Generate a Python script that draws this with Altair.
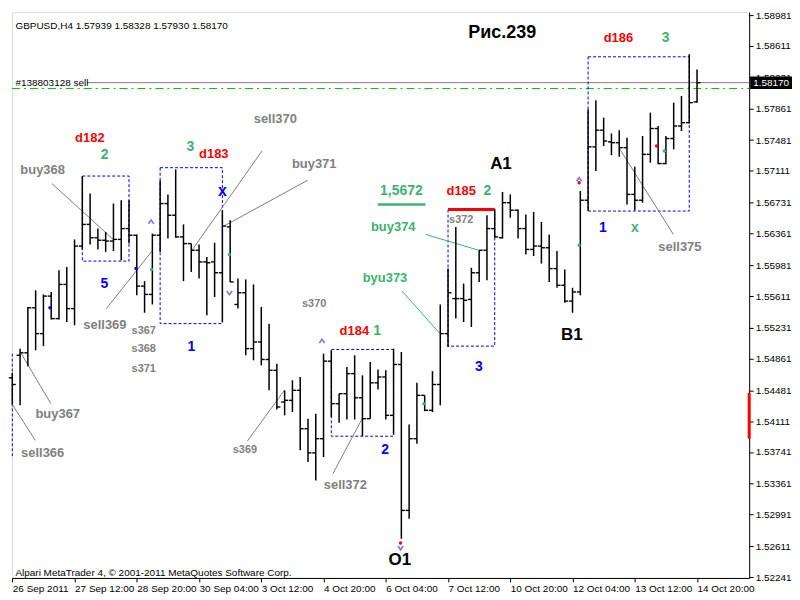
import json
import altair as alt
import pandas as pd

# ---------------- data ----------------
bar_open = [1.5463, 1.5490, 1.5493, 1.5547, 1.5516, 1.5561, 1.5534, 1.5575, 1.5546, 1.5621,
            1.5647, 1.5631, 1.5628, 1.5627, 1.5629, 1.5642, 1.5634, 1.5573, 1.5563, 1.5634,
            1.5672, 1.5658, 1.5632, 1.5624, 1.5616, 1.5602, 1.5602, 1.5589, 1.5644, 1.5551,
            1.5565, 1.5498, 1.5506, 1.5485, 1.5472, 1.5434, 1.5436, 1.5448, 1.5402, 1.5373,
            1.5390, 1.5483, 1.5432, 1.5444, 1.5468, 1.5439, 1.5414, 1.5457, 1.5464, 1.5418,
            1.5479, 1.5304, 1.5390, 1.5442, 1.5424, 1.5455, 1.5516, 1.5558, 1.5558, 1.5557,
            1.5589, 1.5616, 1.5642, 1.5631, 1.5673, 1.5664, 1.5642, 1.5617, 1.5621, 1.5619,
            1.5594, 1.5574, 1.5555, 1.5566, 1.5676, 1.5740, 1.5760, 1.5746, 1.5745, 1.5739,
            1.5683, 1.5676, 1.5731, 1.5762, 1.5720, 1.5750, 1.5765, 1.5769, 1.57939]
bar_high = [1.5469, 1.5498, 1.5548, 1.5568, 1.5563, 1.5566, 1.5592, 1.5596, 1.5629, 1.5705,
            1.5684, 1.5642, 1.5638, 1.5672, 1.5676, 1.5676, 1.5635, 1.5579, 1.5636, 1.5700,
            1.5683, 1.5713, 1.5647, 1.5624, 1.5623, 1.5608, 1.5625, 1.5664, 1.5652, 1.5582,
            1.5581, 1.5575, 1.5548, 1.5528, 1.5480, 1.5448, 1.5460, 1.5464, 1.5414, 1.5420,
            1.5492, 1.5496, 1.5444, 1.5476, 1.5490, 1.5466, 1.5482, 1.5473, 1.5472, 1.5498,
            1.5494, 1.5407, 1.5457, 1.5442, 1.5471, 1.5551, 1.5594, 1.5644, 1.5576, 1.5595,
            1.5616, 1.5658, 1.5665, 1.5686, 1.5683, 1.5665, 1.5659, 1.5662, 1.5650, 1.5635,
            1.5615, 1.5593, 1.5571, 1.5687, 1.5785, 1.5796, 1.5775, 1.5756, 1.5760, 1.5751,
            1.5716, 1.5753, 1.5781, 1.5765, 1.5753, 1.5793, 1.5801, 1.5851, 1.58328]
bar_low = [1.5431, 1.5430, 1.5477, 1.5496, 1.5501, 1.5533, 1.5533, 1.5530, 1.5526, 1.5617,
           1.5623, 1.5617, 1.5614, 1.5615, 1.5604, 1.5624, 1.5562, 1.5541, 1.5551, 1.5614,
           1.5630, 1.5631, 1.5579, 1.5590, 1.5582, 1.5538, 1.5560, 1.5530, 1.5578, 1.5546,
           1.5490, 1.5484, 1.5478, 1.5448, 1.5425, 1.5418, 1.5422, 1.5376, 1.5362, 1.5340,
           1.5368, 1.5416, 1.5409, 1.5413, 1.5413, 1.5393, 1.5414, 1.5449, 1.5413, 1.5395,
           1.5270, 1.5294, 1.5384, 1.5423, 1.5422, 1.5430, 1.5500, 1.5534, 1.5530, 1.5524,
           1.5578, 1.5580, 1.5631, 1.5630, 1.5655, 1.5630, 1.5611, 1.5609, 1.5600, 1.5578,
           1.5571, 1.5553, 1.5541, 1.5562, 1.5663, 1.5711, 1.5741, 1.5730, 1.5728, 1.5671,
           1.5664, 1.5673, 1.5721, 1.5719, 1.5719, 1.5737, 1.5759, 1.5768, 1.57930]
bar_close = [1.5455, 1.5493, 1.5547, 1.5516, 1.5561, 1.5534, 1.5575, 1.5546, 1.5621, 1.5647,
             1.5631, 1.5628, 1.5627, 1.5629, 1.5642, 1.5634, 1.5573, 1.5563, 1.5634, 1.5672,
             1.5658, 1.5632, 1.5624, 1.5616, 1.5602, 1.5601, 1.5589, 1.5645, 1.5578, 1.5565,
             1.5498, 1.5506, 1.5485, 1.5472, 1.5428, 1.5436, 1.5448, 1.5402, 1.5373, 1.5390,
             1.5483, 1.5432, 1.5444, 1.5468, 1.5439, 1.5414, 1.5457, 1.5464, 1.5418, 1.5479,
             1.5304, 1.5390, 1.5442, 1.5424, 1.5455, 1.5516, 1.5565, 1.5558, 1.5556, 1.5589,
             1.5616, 1.5642, 1.5632, 1.5673, 1.5664, 1.5642, 1.5617, 1.5621, 1.5619, 1.5594,
             1.5574, 1.5555, 1.5566, 1.5676, 1.5740, 1.5760, 1.5747, 1.5745, 1.5739, 1.5683,
             1.5676, 1.5731, 1.5762, 1.5720, 1.5750, 1.5765, 1.5769, 1.5793, 1.58170]

tick_labels = ["26 Sep 2011", "27 Sep 12:00", "28 Sep 20:00", "30 Sep 04:00", "3 Oct 12:00",
               "4 Oct 20:00", "6 Oct 04:00", "7 Oct 12:00", "10 Oct 20:00", "12 Oct 04:00",
               "13 Oct 12:00", "14 Oct 20:00"]
tick_index = [0, 8, 16, 24, 32, 40, 48, 56, 64, 72, 80, 88]
price_ticks = [1.58981, 1.58611, 1.58231, 1.57861, 1.57481, 1.57111, 1.56731, 1.56361,
               1.55981, 1.55611, 1.55231, 1.54861, 1.54481, 1.54111, 1.53741, 1.53361,
               1.52991, 1.52611, 1.52241]

# dashed boxes (bar index from/to, price top/bottom)
box_x1 = [9.0, 19.0, 41.0, 56.0, 74.0]
box_x2 = [15.0, 27.0, 49.0, 62.0, 87.0]
box_top = [1.5705, 1.5715, 1.5497, 1.5665, 1.5848]
box_bot = [1.5603, 1.5528, 1.5393, 1.5501, 1.5663]

# leader lines (gray)
gline_x1 = [5.09, 12.09, 32.09, 37.96, 0.0, 1.09, 44.96, 34.96, 77.96]
gline_y1 = [1.5696, 1.5546, 1.5735, 1.5700, 1.5431, 1.5493, 1.5414, 1.5448, 1.5739]
gline_x2 = [12.96, 17.96, 23.09, 27.2, 2.96, 4.96, 41.2, 30.2, 84.96]
gline_y2 = [1.5629, 1.5615, 1.5616, 1.5645, 1.5388, 1.5432, 1.5348, 1.5387, 1.5635]
# leader lines (green)
grline_x1 = [50.09, 53.09]
grline_y1 = [1.5567, 1.5635]
grline_x2 = [54.96, 59.96]
grline_y2 = [1.5516, 1.5616]

label_text = ["d182", "2", "buy368", "5", "sell369", "s367", "s368", "s371", "1", "3", "d183",
              "sell370", "buy371", "buy367", "sell366", "s370", "s369", "d184", "1", "2",
              "sell372", "O1", "1,5672", "d185", "2", "A1", "s372", "buy374", "byu373", "3",
              "B1", "d186", "3", "1", "x", "sell375", "Рис.239", "x"]
label_x = [9.97, 11.85, 3.9, 11.84, 11.9, 16.9, 16.9, 16.9, 23.0, 22.9, 25.9,
           33.8, 38.8, 5.84, 3.9, 38.8, 29.9, 43.96, 46.9, 47.9,
           42.8, 49.8, 50.0, 57.7, 61.05, 62.8, 57.7, 48.96, 47.9, 59.97,
           71.9, 77.9, 83.96, 75.9, 80.0, 85.8, 62.96, 27.0]
label_y = [1.5751, 1.5730, 1.5712, 1.5576, 1.5526, 1.5519, 1.5497, 1.5473, 1.5500, 1.5740, 1.5731,
           1.5773, 1.5720, 1.5420, 1.5373, 1.5551, 1.5376, 1.5519, 1.5519, 1.5377,
           1.5335, 1.5245, 1.5687, 1.5687, 1.5687, 1.5720, 1.5652, 1.5644, 1.5583, 1.5476,
           1.5514, 1.5870, 1.5871, 1.5643, 1.5643, 1.5620, 1.5876, 1.5687]
RED, GREEN, BLUE, GRAY, BLACK = "#ff0000", "#3cb371", "#0000ff", "#808080", "#000000"
label_color = [RED, GREEN, GRAY, BLUE, GRAY, GRAY, GRAY, GRAY, BLUE, GREEN, RED,
               GRAY, GRAY, GRAY, GRAY, GRAY, GRAY, RED, GREEN, BLUE,
               GRAY, BLACK, GREEN, RED, GREEN, BLACK, GRAY, GREEN, GREEN, BLUE,
               BLACK, RED, GREEN, BLUE, GREEN, GRAY, BLACK, BLUE]
label_size = [13, 14, 13, 14, 13, 11, 11, 11, 14, 14, 13,
              13, 13, 13, 13, 11, 11, 13, 14, 14,
              13, 17, 14, 13, 14, 17, 11, 13, 13, 14,
              17, 13, 14, 14, 14, 13, 18, 16]

up_x = [17.84, 39.8, 72.85]
up_y = [1.5650, 1.5507, 1.5701]
down_x = [27.9, 49.9]
down_y = [1.5565, 1.5259]
dot_x = [4.84, 15.9, 17.9, 27.9, 52.9, 72.85, 83.8, 49.9, 72.85, 82.8]
dot_y = [1.5547, 1.5594, 1.5593, 1.5611, 1.5432, 1.5622, 1.5735, 1.5265, 1.5697, 1.5741]
dot_c = [BLUE, BLUE, GREEN, GREEN, GREEN, GREEN, GREEN, RED, RED, RED]

bid_price = 1.58170
order_price = 1.5810
header_text = "GBPUSD,H4  1.57939 1.58328 1.57930 1.58170"
footer_text = "Alpari MetaTrader 4, © 2001-2011 MetaQuotes Software Corp."

# ---------------- chart ----------------
W, H = 740, 568
XDOM = [-0.04, 94.7]
YDOM = [1.52230, 1.59016]
FONT = "Liberation Sans"

xs = alt.Scale(domain=XDOM, nice=False, zero=False)
ys = alt.Scale(domain=YDOM, nice=False, zero=False)
label_expr = "%s[round(datum.value/8)]" % json.dumps(tick_labels)
xaxis = alt.Axis(values=tick_index, labelExpr=label_expr, labelAlign="left", labelPadding=2,
                 tickSize=4, grid=False, title=None, labelFont=FONT, labelFontSize=10,
                 labelColor="black", tickColor="black", domainColor="black",
                 labelOverlap=False, labelFlush=False)
yaxis = alt.Axis(orient="right", values=price_ticks, format=".5f", labelAlign="left",
                 labelBaseline="middle", labelPadding=2, tickSize=4, grid=False, title=None,
                 labelFont=FONT, labelFontSize=10, labelColor="black", tickColor="black",
                 domainColor="black", labelOverlap=False, labelFlush=False)


def X(f="x"):
    return alt.X(f"{f}:Q", scale=xs, axis=xaxis)


def Y(f="y"):
    return alt.Y(f"{f}:Q", scale=ys, axis=yaxis)


idx = list(range(len(bar_close)))
df_hl = pd.DataFrame({"x": idx, "y": bar_low, "y2": bar_high})
df_o = pd.DataFrame({"x": [i - 0.45 for i in idx], "x2": idx, "y": bar_open})
df_c = pd.DataFrame({"x": idx, "x2": [i + 0.45 for i in idx], "y": bar_close})

hl = alt.Chart(df_hl).mark_rule(color="black", strokeWidth=1.5).encode(x=X(), y=Y(), y2="y2:Q")
op = alt.Chart(df_o).mark_rule(color="black", strokeWidth=1.4).encode(x=X(), x2="x2:Q", y=Y())
cl = alt.Chart(df_c).mark_rule(color="black", strokeWidth=1.4).encode(x=X(), x2="x2:Q", y=Y())

df_box = pd.DataFrame({"x": box_x1, "x2": box_x2, "y": box_top, "y2": box_bot})
boxes = alt.Chart(df_box).mark_rect(fillOpacity=0, stroke=BLUE, strokeWidth=1,
                                    strokeDash=[3, 2]).encode(x=X(), x2="x2:Q", y=Y(), y2="y2:Q")
df_edge = pd.DataFrame({"x": [0.0], "y": [1.5492], "y2": [1.5369]})
edge = alt.Chart(df_edge).mark_rule(color=BLUE, strokeWidth=1, strokeDash=[3, 2]).encode(
    x=X(), y=Y(), y2="y2:Q")

df_g = pd.DataFrame({"x": gline_x1, "y": gline_y1, "x2": gline_x2, "y2": gline_y2})
glines = alt.Chart(df_g).mark_rule(color="#808080", strokeWidth=1).encode(
    x=X(), y=Y(), x2="x2:Q", y2="y2:Q")
df_gr = pd.DataFrame({"x": grline_x1, "y": grline_y1, "x2": grline_x2, "y2": grline_y2})
grlines = alt.Chart(df_gr).mark_rule(color=GREEN, strokeWidth=1).encode(
    x=X(), y=Y(), x2="x2:Q", y2="y2:Q")

df_under = pd.DataFrame({"x": [46.96], "x2": [53.09], "y": [1.5671]})
under = alt.Chart(df_under).mark_rule(color=GREEN, strokeWidth=2.5).encode(x=X(), x2="x2:Q", y=Y())
df_redtop = pd.DataFrame({"x": [56.0], "x2": [62.0], "y": [1.5665]})
redtop = alt.Chart(df_redtop).mark_rule(color=RED, strokeWidth=3).encode(x=X(), x2="x2:Q", y=Y())

df_bid = pd.DataFrame({"x": [9.6], "x2": [XDOM[1]], "y": [bid_price]})
bid = alt.Chart(df_bid).mark_rule(color="#808080", strokeWidth=1).encode(x=X(), x2="x2:Q", y=Y())
df_ord = pd.DataFrame({"x": [XDOM[0]], "x2": [XDOM[1]], "y": [order_price]})
order = alt.Chart(df_ord).mark_rule(color="#00c800", strokeWidth=1.2,
                                    strokeDash=[8, 4, 2, 4]).encode(x=X(), x2="x2:Q", y=Y())

df_lab = pd.DataFrame({"x": label_x, "y": label_y, "t": label_text, "c": label_color,
                       "s": label_size})
labels = alt.Chart(df_lab).mark_text(font=FONT, fontWeight="bold", align="center",
                                     baseline="middle").encode(
    x=X(), y=Y(), text="t:N", color=alt.Color("c:N", scale=None), size=alt.Size("s:Q", scale=None))

df_up = pd.DataFrame({"x": up_x, "y": up_y})
ups = alt.Chart(df_up).mark_point(shape="M-1,0.7L0,-0.7L1,0.7", filled=False, color="#3b3bff",
                                  strokeWidth=1.6, size=28).encode(x=X(), y=Y())
df_dn = pd.DataFrame({"x": down_x, "y": down_y})
downs = alt.Chart(df_dn).mark_point(shape="M-1,-0.7L0,0.7L1,-0.7", filled=False, color="#3b3bff",
                                    strokeWidth=1.6, size=28).encode(x=X(), y=Y())
df_dot = pd.DataFrame({"x": dot_x, "y": dot_y, "c": dot_c})
dots = alt.Chart(df_dot).mark_point(filled=True, size=12, opacity=1).encode(
    x=X(), y=Y(), color=alt.Color("c:N", scale=None))

df_txt = pd.DataFrame({"x": [0.4, 0.4, 0.4], "y": [1.5885, bid_price, 1.5229],
                       "t": [header_text, "#138803128 sell", footer_text]})
plain = alt.Chart(df_txt).mark_text(font=FONT, fontSize=10, align="left", baseline="middle",
                                    color="black").encode(x=X(), y=Y(), text="t:N")

# current price box on the price scale, and the red mark on the axis
df_pbox = pd.DataFrame({"y": [bid_price + 0.00075], "y2": [bid_price - 0.00075]})
pbox = alt.Chart(df_pbox).mark_rect(color="black").encode(
    x=alt.value(W + 1), x2=alt.value(W + 43), y=Y(), y2="y2:Q")
df_ptxt = pd.DataFrame({"y": [bid_price], "t": ["1.58170"]})
ptxt = alt.Chart(df_ptxt).mark_text(font=FONT, fontSize=10, align="left", baseline="middle",
                                    color="white").encode(x=alt.value(W + 4), y=Y(), text="t:N")
df_red = pd.DataFrame({"y": [1.5445], "y2": [1.5390]})
redax = alt.Chart(df_red).mark_rule(color=RED, strokeWidth=3).encode(
    x=alt.value(W), y=Y(), y2="y2:Q")

chart = alt.layer(
    order, bid, boxes, edge, glines, grlines, under, redtop,
    hl, op, cl, ups, downs, dots, labels, plain, pbox, ptxt, redax
).properties(width=W, height=H, padding=0).configure_view(
    stroke="black", strokeWidth=1
).configure(background="white")

chart.save("out.html", embed_options={"renderer": "svg", "actions": False})
